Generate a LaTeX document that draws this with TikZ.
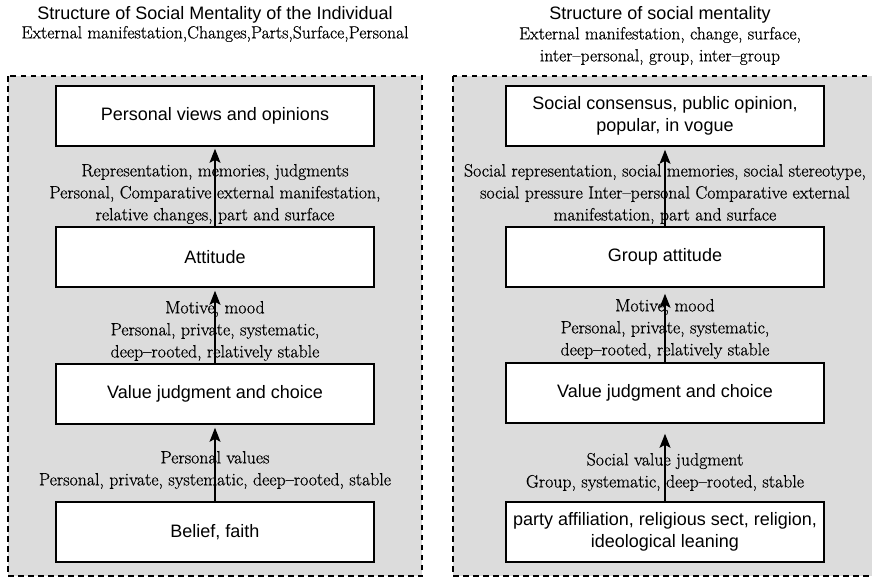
\documentclass[tikz,border=0pt]{standalone}
\usepackage{fontspec}
\setsansfont{Liberation Sans}
\newfontfamily\lblfont{Latin Modern Roman}[FakeBold=0.6]
\usetikzlibrary{arrows.meta}
\definecolor{panelgray}{RGB}{220,220,220}
\tikzset{
  panel/.style={fill=panelgray, draw=black, line width=2pt, dash pattern=on 5.5pt off 4.5pt},
  stagebox/.style={draw=black, fill=white, line width=1.6pt, minimum width=318pt, minimum height=60pt,
    inner sep=0pt, align=center, font=\sffamily\fontsize{18}{22}\selectfont},
  lbl/.style={align=center, inner sep=0pt, font=\lblfont\fontsize{17.8}{22}\selectfont},
  ttl/.style={inner sep=0pt, font=\sffamily\fontsize{18}{22}\selectfont},
  sub/.style={inner sep=0pt, align=center, font=\lblfont\fontsize{17.6}{22}\selectfont},
  up/.style={-{Stealth[length=14pt,width=11pt,inset=3pt]}, line width=1.5pt}
}
\begin{document}
\begin{tikzpicture}[x=1pt,y=-1pt]
\useasboundingbox (0,0) rectangle (872,578);

% panels
\fill[white] (0,0) rectangle (872,578);
\draw[panel] (8,76) rectangle (422,576);
\draw[panel] (453,76) rectangle (885,576);

% titles
\node[ttl] (tL) at (215,15) {Structure of Social Mentality of the Individual};
\node[sub] (sL) at (215,34) {External manifestation,Changes,Parts,Surface,Personal};
\node[ttl] (tR) at (660,15) {Structure of social mentality};
\node[sub] (sR) at (660,46) {External manifestation, change, surface,\\inter–personal, group, inter–group};

% left column
\node[stagebox] (L1) at (215,116) {Personal views and opinions};
\node[stagebox] (L2) at (215,257) {Attitude};
\node[stagebox] (L3) at (215,394) {Value judgment and choice};
\node[stagebox] (L4) at (215,532) {Belief, faith};

% right column
\node[stagebox] (R1) at (665,116) {Social consensus, public opinion,\\popular, in vogue};
\node[stagebox] (R2) at (665,257) {Group attitude};
\node[stagebox] (R3) at (665,393) {Value judgment and choice};
\node[stagebox] (R4) at (665,532) {party affiliation, religious sect, religion,\\ideological leaning};

% connectors
\draw[up, shorten >=2pt] (L2.north) -- (L1.south);
\draw[up, shorten >=3pt] (L3.north) -- (L2.south);
\draw[up, shorten >=3pt] (L4.north) -- (L3.south);
\draw[up, shorten >=3pt] (R2.north) -- (R1.south);
\draw[up, shorten >=6pt] (R3.north) -- (R2.south);
\draw[up, shorten >=10pt] (R4.north) -- (R3.south);

% connector labels
\node[lbl] (a1) at (215,194) {Representation, memories, judgments\\Personal, Comparative external manifestation,\\relative changes, part and surface};
\node[lbl] (a2) at (215,331) {Motive, mood\\Personal, private, systematic,\\deep–rooted, relatively stable};
\node[lbl] (a3) at (215,470) {Personal values\\Personal, private, systematic, deep–rooted, stable};
\node[lbl] (b1) at (665,194) {Social representation, social memories, social stereotype,\\social pressure Inter–personal Comparative external\\manifestation, part and surface};
\node[lbl] (b2) at (665,329) {Motive, mood\\Personal, private, systematic,\\deep–rooted, relatively stable};
\node[lbl] (b3) at (665,472) {Social value judgment\\Group, systematic, deep–rooted, stable};
\end{tikzpicture}
\end{document}
